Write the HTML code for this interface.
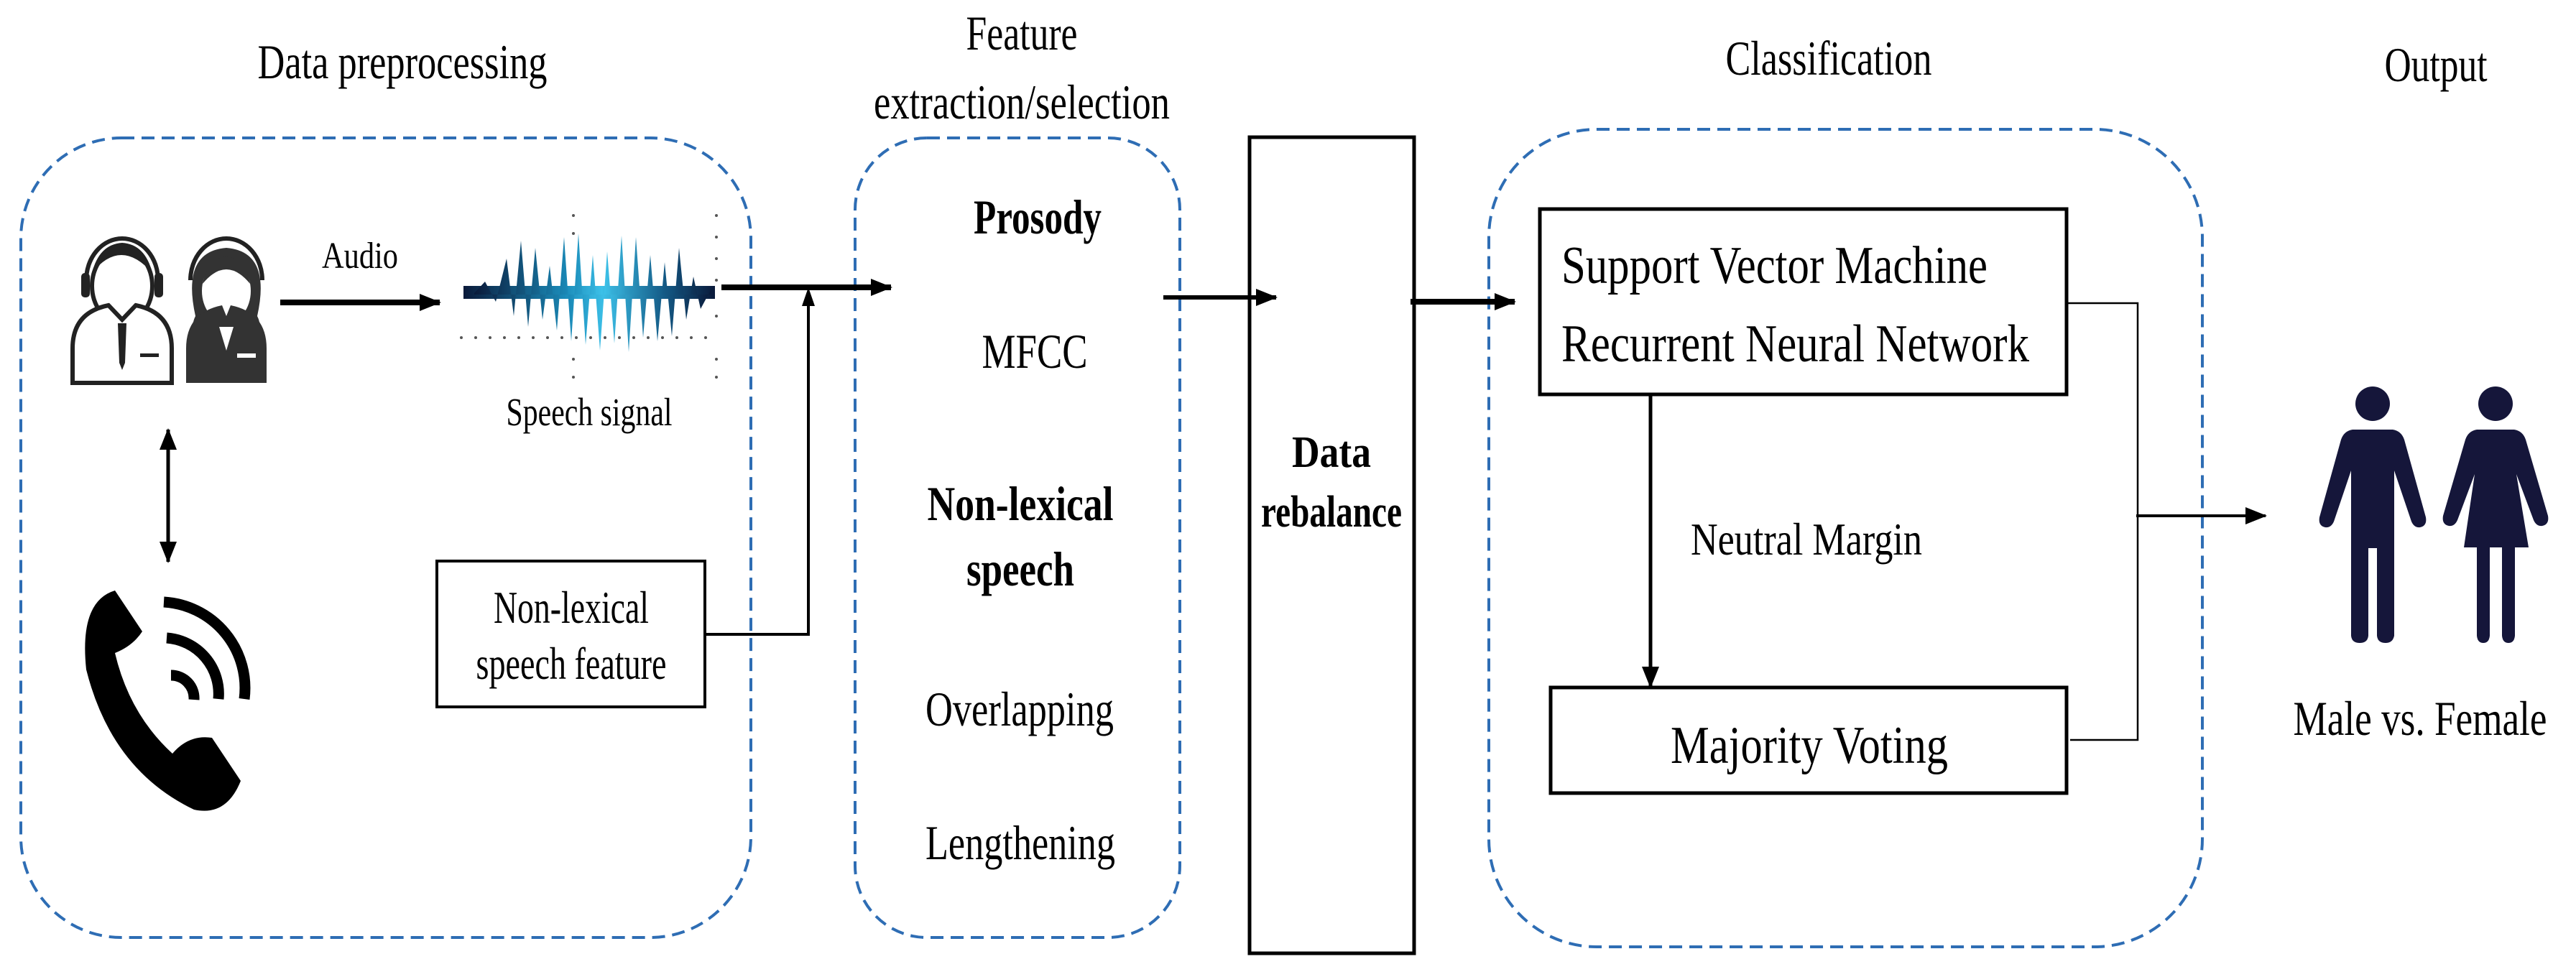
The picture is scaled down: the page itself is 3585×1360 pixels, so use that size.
<!DOCTYPE html>
<html><head><meta charset="utf-8"><style>
html,body{margin:0;padding:0;background:#fff;}
svg{display:block;}
text{font-family:"Liberation Serif",serif;fill:#000;}
</style></head><body>
<svg width="3585" height="1360" viewBox="0 0 3585 1360" xmlns="http://www.w3.org/2000/svg">
<defs>
<marker id="ah" markerWidth="30" markerHeight="24" refX="28" refY="12" orient="auto" markerUnits="userSpaceOnUse" viewBox="0 0 30 24"><path d="M0,0 L30,12 L0,24 Z" fill="#000"/></marker>
<marker id="as" markerWidth="30" markerHeight="24" refX="2" refY="12" orient="auto" markerUnits="userSpaceOnUse" viewBox="0 0 30 24"><path d="M30,0 L0,12 L30,24 Z" fill="#000"/></marker>
<linearGradient id="wg" x1="0" y1="0" x2="1" y2="0">
<stop offset="0" stop-color="#0a1a3a"/><stop offset="0.4" stop-color="#1a8ab8"/><stop offset="0.55" stop-color="#3cc0e8"/><stop offset="0.8" stop-color="#145a86"/><stop offset="1" stop-color="#0a1a3a"/></linearGradient>
</defs>

<!-- headings -->
<text x="560" y="109" font-size="68" text-anchor="middle" textLength="403" lengthAdjust="spacingAndGlyphs">Data preprocessing</text>
<text x="1422" y="69" font-size="68" text-anchor="middle" textLength="155" lengthAdjust="spacingAndGlyphs">Feature</text>
<text x="1422" y="165" font-size="68" text-anchor="middle" textLength="412" lengthAdjust="spacingAndGlyphs">extraction/selection</text>
<text x="2545" y="104" font-size="68" text-anchor="middle" textLength="287" lengthAdjust="spacingAndGlyphs">Classification</text>
<text x="3390" y="113" font-size="68" text-anchor="middle" textLength="143" lengthAdjust="spacingAndGlyphs">Output</text>

<!-- dashed containers -->
<g fill="none" stroke="#2e6db4" stroke-width="4" stroke-dasharray="18,10">
<rect x="29" y="192" width="1016" height="1113" rx="140"/>
<rect x="1190" y="192" width="452" height="1113" rx="100"/>
<rect x="2072" y="180" width="993" height="1138" rx="150"/>
</g>

<!-- people icons -->
<g>
<path d="M120,390 a50,58 0 0 1 100,0" fill="none" stroke="#222" stroke-width="6"/>
<rect x="113" y="380" width="12" height="34" rx="5" fill="#222"/><rect x="215" y="380" width="12" height="34" rx="5" fill="#222"/>
<ellipse cx="170" cy="398" rx="42" ry="52" fill="#fff" stroke="#222" stroke-width="6"/>
<path d="M128,380 q40,-50 84,0 q-10,-40 -42,-42 q-32,2 -42,42 z" fill="#222"/>
<path d="M101,533 L101,485 q0,-50 50,-60 L170,445 L189,425 q50,10 50,60 L239,533 Z" fill="#fff" stroke="#222" stroke-width="6"/>
<path d="M164,450 L176,450 L174,505 L170,515 L166,505 Z" fill="#222"/>
<rect x="195" y="492" width="26" height="5" fill="#222"/>

<path d="M265,390 a50,58 0 0 1 100,0" fill="none" stroke="#222" stroke-width="6"/>
<path d="M272,440 q-20,-90 43,-95 q63,5 43,95 q10,20 -10,30 l-66,0 q-20,-10 -10,-30 z" fill="#333"/>
<ellipse cx="315" cy="405" rx="34" ry="44" fill="#fff"/>
<path d="M282,395 q33,-40 66,0 q-6,-35 -33,-38 q-27,3 -33,38 z" fill="#333"/>
<path d="M259,533 L259,485 q0,-50 50,-60 L315,440 L321,425 q50,10 50,60 L371,533 Z" fill="#333"/>
<path d="M305,455 L315,488 L325,455 Z" fill="#fff"/>
<rect x="330" y="492" width="26" height="6" fill="#fff"/>
</g>

<!-- double arrow -->
<line x1="234" y1="598" x2="234" y2="782" stroke="#000" stroke-width="5" marker-start="url(#as)" marker-end="url(#ah)"/>

<!-- phone -->
<g>
<path d="M160,822 q-50,15 -40,110 q35,140 150,195 q45,10 65,-40 l-40,-60 q-32,-5 -55,22 q-60,-55 -80,-140 q25,-10 38,-30 z" fill="#000"/>
<path d="M228,838 a120,120 0 0 1 112,135" fill="none" stroke="#000" stroke-width="15"/>
<path d="M232,888 a78,78 0 0 1 72,85" fill="none" stroke="#000" stroke-width="15"/>
<path d="M238,940 a32,32 0 0 1 32,34" fill="none" stroke="#000" stroke-width="15"/>
</g>

<!-- audio -->
<text x="501" y="373" font-size="52" text-anchor="middle" textLength="106" lengthAdjust="spacingAndGlyphs">Audio</text>
<line x1="390" y1="421" x2="612" y2="421" stroke="#000" stroke-width="8" marker-end="url(#ah)"/>

<!-- waveform -->
<g fill="url(#wg)">
<rect x="645" y="398" width="350" height="18"/>
<path d="M660,408 L675,392 L690,420 L705,360 L715,440 L725,335 L735,455 L745,345 L755,445 L765,370 L775,460 L785,330 L795,475 L805,325 L815,480 L825,355 L835,488 L845,350 L855,478 L865,328 L875,490 L885,330 L895,470 L905,355 L915,475 L925,365 L935,468 L945,345 L955,445 L965,385 L975,430 L990,402 L990,410 L660,410 Z"/>
</g>
<g fill="#555">
<circle cx="642" cy="470" r="2"/><circle cx="662" cy="470" r="2"/><circle cx="682" cy="470" r="2"/><circle cx="702" cy="470" r="2"/><circle cx="722" cy="470" r="2"/><circle cx="742" cy="470" r="2"/><circle cx="762" cy="470" r="2"/><circle cx="782" cy="470" r="2"/><circle cx="802" cy="470" r="2"/><circle cx="822" cy="470" r="2"/><circle cx="842" cy="470" r="2"/><circle cx="862" cy="470" r="2"/><circle cx="882" cy="470" r="2"/><circle cx="902" cy="470" r="2"/><circle cx="922" cy="470" r="2"/><circle cx="942" cy="470" r="2"/><circle cx="962" cy="470" r="2"/><circle cx="982" cy="470" r="2"/>
<circle cx="997" cy="300" r="2"/><circle cx="997" cy="330" r="2"/><circle cx="997" cy="360" r="2"/><circle cx="997" cy="390" r="2"/><circle cx="997" cy="440" r="2"/><circle cx="997" cy="500" r="2"/><circle cx="997" cy="525" r="2"/>
<circle cx="798" cy="300" r="2"/><circle cx="798" cy="325" r="2"/><circle cx="798" cy="500" r="2"/><circle cx="798" cy="525" r="2"/>
</g>
<text x="820" y="592" font-size="55" text-anchor="middle" textLength="231" lengthAdjust="spacingAndGlyphs">Speech signal</text>

<!-- arrow from wave to features -->
<line x1="1004" y1="400" x2="1240" y2="400" stroke="#000" stroke-width="8" marker-end="url(#ah)"/>

<!-- non-lexical box -->
<rect x="608" y="781" width="373" height="203" fill="#fff" stroke="#000" stroke-width="4"/>
<text x="795" y="867" font-size="64" text-anchor="middle" textLength="216" lengthAdjust="spacingAndGlyphs">Non-lexical</text>
<text x="795" y="945" font-size="64" text-anchor="middle" textLength="265" lengthAdjust="spacingAndGlyphs">speech feature</text>
<polyline points="981,883 1125,883 1125,420" fill="none" stroke="#000" stroke-width="4"/>
<path d="M1116,426 L1125,400 L1134,426 Z" fill="#000"/>

<!-- features -->
<g font-size="68" text-anchor="middle">
<text x="1444" y="325" font-weight="bold" textLength="178" lengthAdjust="spacingAndGlyphs">Prosody</text>
<text x="1440" y="512" textLength="147" lengthAdjust="spacingAndGlyphs">MFCC</text>
<text x="1420" y="724" font-weight="bold" textLength="259" lengthAdjust="spacingAndGlyphs">Non-lexical</text>
<text x="1420" y="815" font-weight="bold" textLength="150" lengthAdjust="spacingAndGlyphs">speech</text>
<text x="1419" y="1010" textLength="262" lengthAdjust="spacingAndGlyphs">Overlapping</text>
<text x="1420" y="1196" textLength="264" lengthAdjust="spacingAndGlyphs">Lengthening</text>
</g>

<!-- to rebalance -->
<line x1="1619" y1="414" x2="1776" y2="414" stroke="#000" stroke-width="6" marker-end="url(#ah)"/>
<rect x="1739" y="191" width="229" height="1136" fill="none" stroke="#000" stroke-width="5"/>
<text x="1853" y="650" font-size="62" font-weight="bold" text-anchor="middle" textLength="110" lengthAdjust="spacingAndGlyphs">Data</text>
<text x="1853" y="733" font-size="62" font-weight="bold" text-anchor="middle" textLength="196" lengthAdjust="spacingAndGlyphs">rebalance</text>

<line x1="1963" y1="420" x2="2108" y2="420" stroke="#000" stroke-width="8" marker-end="url(#ah)"/>

<!-- classification -->
<rect x="2143" y="291" width="733" height="258" fill="#fff" stroke="#000" stroke-width="5"/>
<text x="2173" y="394" font-size="74" textLength="593" lengthAdjust="spacingAndGlyphs">Support Vector Machine</text>
<text x="2173" y="503" font-size="74" textLength="651" lengthAdjust="spacingAndGlyphs">Recurrent Neural Network</text>
<line x1="2297" y1="549" x2="2297" y2="956" stroke="#000" stroke-width="5" marker-end="url(#ah)"/>
<text x="2353" y="772" font-size="64" textLength="322" lengthAdjust="spacingAndGlyphs">Neutral Margin</text>
<rect x="2158" y="957" width="718" height="147" fill="#fff" stroke="#000" stroke-width="5"/>
<text x="2518" y="1062" font-size="74" text-anchor="middle" textLength="386" lengthAdjust="spacingAndGlyphs">Majority Voting</text>

<polyline points="2876,422 2975,422 2975,1030 2881,1030" fill="none" stroke="#000" stroke-width="2.5"/>
<line x1="2973" y1="718" x2="3153" y2="718" stroke="#000" stroke-width="4" marker-end="url(#ah)"/>

<!-- people figures -->
<g fill="#15163a">
<circle cx="3302" cy="562" r="24"/>
<path d="M3274,598 L3330,598 Q3342,600 3346,612 L3376,720 Q3378,732 3368,734 Q3360,735 3356,726 L3332,655 L3332,885 Q3330,895 3320,895 Q3309,895 3308,885 L3308,763 L3296,763 L3296,885 Q3295,895 3284,895 Q3273,895 3272,885 L3272,655 L3248,726 Q3244,735 3236,734 Q3226,732 3228,720 L3258,612 Q3262,600 3274,598 Z"/>
<circle cx="3473" cy="562" r="24"/>
<path d="M3447,598 L3499,598 Q3511,600 3515,612 L3546,718 Q3548,730 3538,732 Q3530,733 3526,724 L3502,660 L3519,762 L3500,762 L3500,885 Q3499,895 3491,895 Q3483,895 3482,885 L3482,762 L3465,762 L3465,885 Q3464,895 3456,895 Q3448,895 3447,885 L3447,762 L3429,762 L3444,660 L3420,724 Q3416,733 3408,732 Q3398,730 3400,718 L3431,612 Q3435,600 3447,598 Z"/>
</g>
<text x="3368" y="1023" font-size="68" text-anchor="middle" textLength="353" lengthAdjust="spacingAndGlyphs">Male vs. Female</text>
</svg>
</body></html>
